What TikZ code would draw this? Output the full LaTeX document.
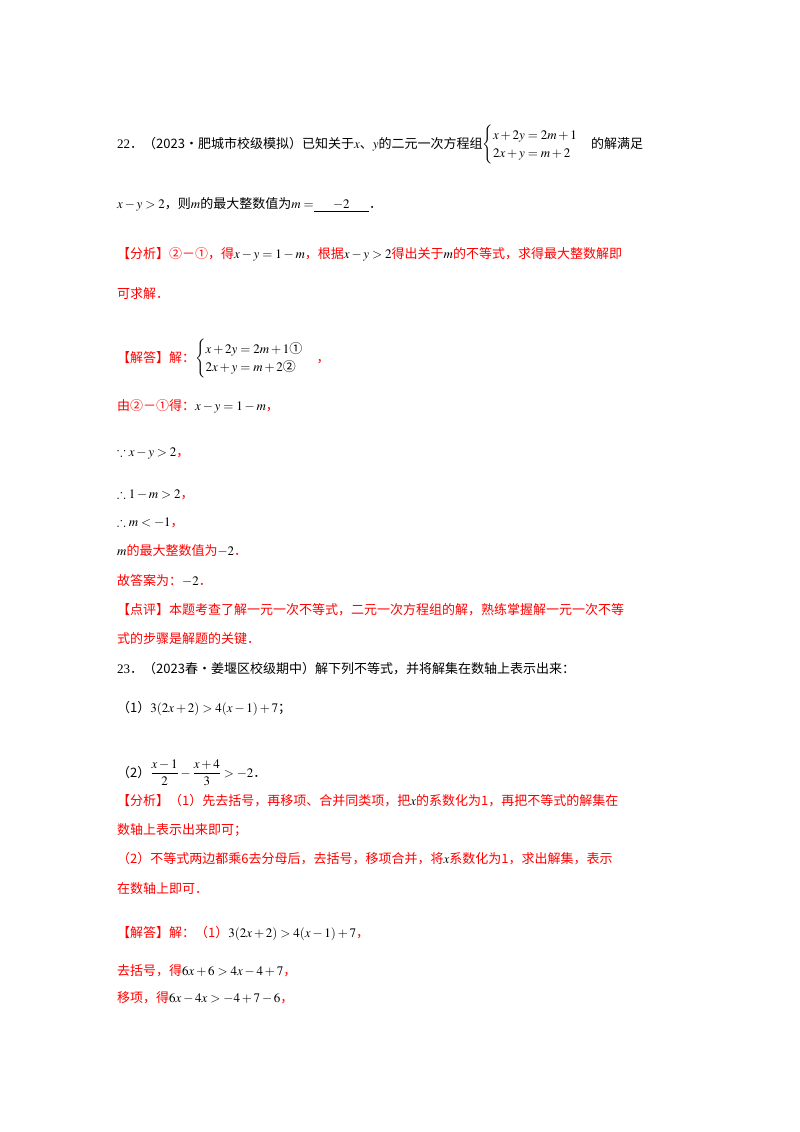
\documentclass[tikz,border=0pt]{standalone}
\usepackage{amsmath,amssymb}
\usepackage{mathptmx}
\usepackage{fontspec}
\setmainfont{Liberation Serif}
\newfontfamily\cjk{Noto Sans CJK SC}
\definecolor{rd}{RGB}{255,0,0}
\begin{document}
\begin{tikzpicture}[x=1pt,y=-1pt,every node/.style={anchor=base west,inner sep=0pt,font=\fontsize{13}{15}\selectfont},
 red/.style={text=rd}]
\useasboundingbox (0,0) rectangle (800,1132);
\node (a1) at (117,148) {22{\cjk．（2023•肥城市校级模拟）已知关于}$x${\cjk、}$y${\cjk 的二元一次方程组}$\begin{cases}x+2y=2m+1\\2x+y=m+2\end{cases}${\cjk 的解满足}};
\node (a2) at (117,208) {$x-y>2${\cjk，则}$m${\cjk 的最大整数值为}$m=$\underline{\hspace{1.5em}$-2$\hspace{1.5em}}{\cjk．}};
\node[red] (a3) at (117,258) {\cjk【分析】②－①，得\textcolor{black}{$x-y=1-m$}，根据\textcolor{black}{$x-y>2$}得出关于\textcolor{black}{$m$}的不等式，求得最大整数解即};
\node[red] (a4) at (117,298) {\cjk 可求解．};
\node[red] (a5) at (117,362) {\cjk【解答】解：\textcolor{black}{$\begin{cases}x+2y=2m+1\text{\cjk ①}\\2x+y=m+2\text{\cjk ②}\end{cases}$}，};
\node[red] (a6) at (117,410) {\cjk 由②－①得：\textcolor{black}{$x-y=1-m$}，};
\node[red] (a7) at (117,456) {\textcolor{black}{$\because x-y>2$}\cjk，};
\node[red] (a8) at (117,498) {\textcolor{black}{$\therefore 1-m>2$}\cjk，};
\node[red] (a9) at (117,526) {\textcolor{black}{$\therefore m<-1$}\cjk，};
\node[red] (a10) at (117,555) {\cjk\textcolor{black}{$m$}的最大整数值为\textcolor{black}{$-2$}．};
\node[red] (a11) at (117,585) {\cjk 故答案为：\textcolor{black}{$-2$}．};
\node[red] (a12) at (117,614) {\cjk【点评】本题考查了解一元一次不等式，二元一次方程组的解，熟练掌握解一元一次不等};
\node[red] (a13) at (117,643) {\cjk 式的步骤是解题的关键．};
\node (b1) at (117,673) {23{\cjk．（2023春•姜堰区校级期中）解下列不等式，并将解集在数轴上表示出来：}};
\node (b2) at (117,712) {{\cjk（1）}$3(2x+2)>4(x-1)+7$\cjk；};
\node (b3) at (117,777) {{\cjk（2）}$\dfrac{x-1}{2}-\dfrac{x+4}{3}>-2${\cjk．}};
\node[red] (b4) at (117,805) {\cjk【分析】（1）先去括号，再移项、合并同类项，把\textcolor{black}{$x$}的系数化为1，再把不等式的解集在};
\node[red] (b5) at (117,834) {\cjk 数轴上表示出来即可；};
\node[red] (b6) at (117,863) {\cjk（2）不等式两边都乘6去分母后，去括号，移项合并，将\textcolor{black}{$x$}系数化为1，求出解集，表示};
\node[red] (b7) at (117,893) {\cjk 在数轴上即可．};
\node[red] (b8) at (117,937) {\cjk【解答】解：（1）\textcolor{black}{$3(2x+2)>4(x-1)+7$}，};
\node[red] (b9) at (117,975) {\cjk 去括号，得\textcolor{black}{$6x+6>4x-4+7$}，};
\node[red] (b10) at (117,1002) {\cjk 移项，得\textcolor{black}{$6x-4x>-4+7-6$}，};
\end{tikzpicture}
\end{document}
